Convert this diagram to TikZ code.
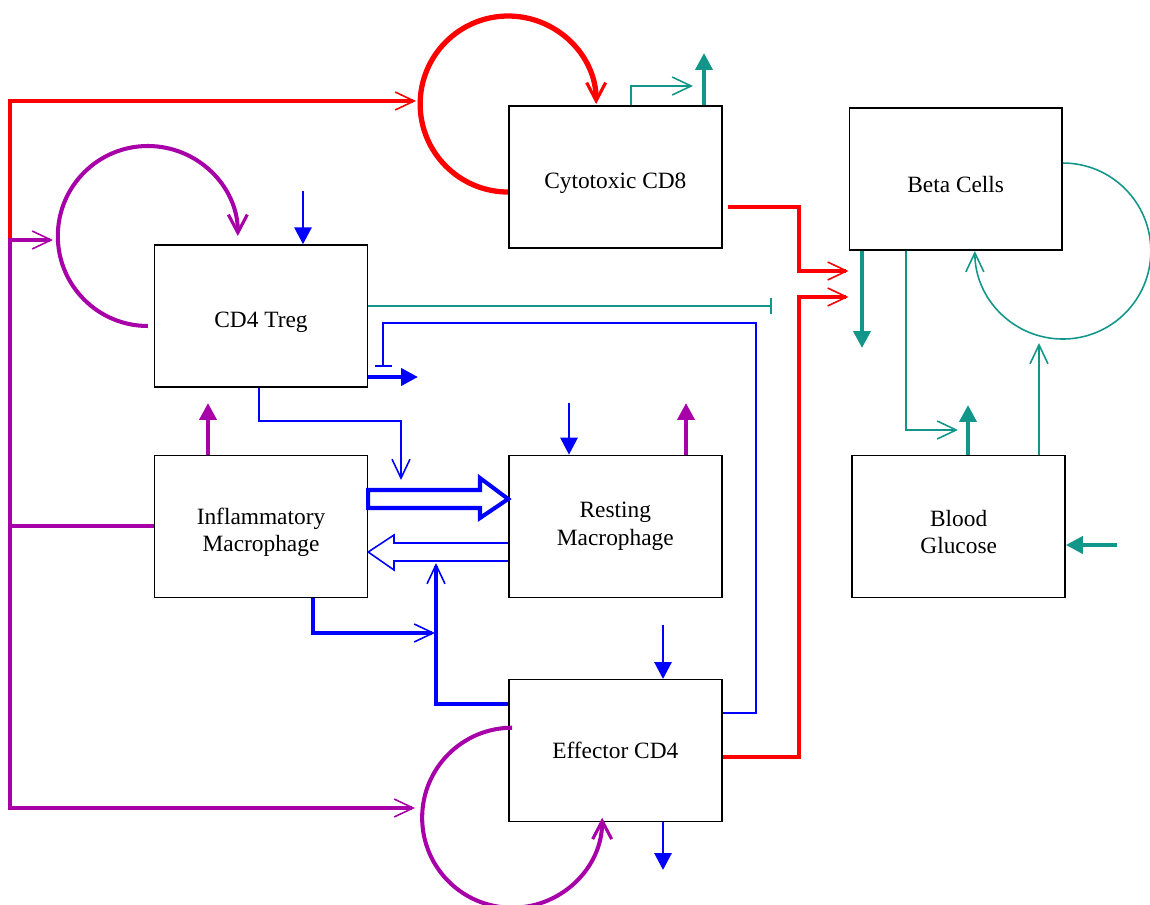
\documentclass[tikz,border=0pt]{standalone}
\usepackage{fontspec}
\setmainfont{Liberation Serif}
\usetikzlibrary{positioning,arrows.meta,calc}
\definecolor{ltred}{HTML}{FF0000}
\definecolor{ltviolet}{HTML}{A800A8}
\definecolor{ltblue}{HTML}{0000FF}
\definecolor{ltteal}{HTML}{12968A}
\newcommand{\celltop}{\rule{0pt}{16pt}}

\begin{document}
\begin{tikzpicture}[x=0.02cm, y=0.02cm,
    every node/.style={font=\fontsize{13.3}{15.5}\selectfont},
    cell/.style={draw, line width=0.8pt, minimum width=4.26cm, minimum height=2.84cm, align=center, inner sep=0pt},
    barb/.style={-{Straight Barb[length=0.38cm, width=0.36cm, line width=0.9pt]}},
    loopbarb/.style={-{Straight Barb[length=0.36cm, width=0.38cm, line width=1.8pt]}},
    fattip/.style={-{Triangle[length=0.34cm, width=0.34cm]}},
    stoptip/.style={-{Bar[width=0.34cm]}},
    rthick/.style={ltred, line width=2.6pt},
    vthick/.style={ltviolet, line width=2.3pt},
    bthick/.style={ltblue, line width=2.3pt},
    bmid/.style={ltblue, line width=1.7pt},
    bthin/.style={ltblue, line width=0.9pt},
    tthick/.style={ltteal, line width=2.3pt},
    tthin/.style={ltteal, line width=0.9pt}]
    \useasboundingbox (0,0) rectangle (1150,904);
    \node[cell] (treg) at (261,588) {\celltop CD4 Treg};
    \node[cell] (infl) [below=1.34cm of treg] {\celltop Inflammatory\\Macrophage};
    \node[cell] (rest) [right=2.8cm of infl] {Resting\\Macrophage};
    \node[cell] (eff) [below=1.62cm of rest] {Effector CD4};
    \node[cell] (cd8) [above=4.12cm of rest] {\celltop Cytotoxic CD8};
    \node[cell] (gluc) [right=2.58cm of rest] {\celltop Blood\\Glucose};
    \node[cell] (beta) [above=4.08cm of gluc, xshift=-0.06cm] {\celltop Beta Cells};
    \coordinate (redfoot) at (10,611);
    \coordinate (hub) at (10,664);
    \draw[rthick, barb] (redfoot) |- (416,803);
    \draw[ltred, line width=3pt, loopbarb] ([yshift=-0.3cm]cd8.west) arc[start angle=270, end angle=0, radius=88];
    \draw[rthick, barb] ([xshift=0.1cm, yshift=-0.6cm]cd8.east) -| (799,633) -- (beta.west |- 0,633);
    \draw[rthick, barb] (eff.east |- 0,147) -| (799,607) -- (beta.west |- 0,607);
    \draw[vthick, barb] (infl.west) -| (hub) -- (53,664);
    \draw[vthick, barb] (infl.west) -| (10,96) -- (415,96);
    \draw[vthick, loopbarb] ([shift={(-6,-10)}]treg.west) arc[start angle=270, end angle=0, radius=90];
    \draw[vthick, loopbarb] ([shift={(4,23)}]eff.west) arc[start angle=90, end angle=360, radius=90];
    \draw[vthick, fattip] (208,0 |- infl.north) -- (208,501);
    \draw[vthick, fattip] (686,0 |- rest.north) -- (686,501);
    \draw[bmid, barb] (259,0 |- treg.south) |- (401,483) -- (401,424);
    \draw[ltblue, line width=2.3pt, fill=white] (infl.east |- 0,414) -- (480,414) -- (480,426) -- (rest.west |- 0,405) -- (480,386) -- (480,396) -- (infl.east |- 0,396) -- cycle;
    \draw[bthin] (rest.west |- 0,361) -- (394,361) -- (394,369) -- (infl.east |- 0,352) -- (394,334) -- (394,343) -- (rest.west |- 0,343);
    \draw[bthick, barb] (313,0 |- infl.south) |- (435,271);
    \draw[bthick, barb] (eff.west |- 0,200) -| (436,341);
    \draw[bthin, stoptip] (eff.east |- 0,191) -| (756,581) -| (383,537);
    \draw[bthick, fattip] (treg.east |- 0,527) -- (418,527);
    \draw[bmid, fattip] (303,713) -- (303,0 |- treg.north);
    \draw[bmid, fattip] (569,501) -- (569,0 |- rest.north);
    \draw[bmid, fattip] (663,279) -- (663,0 |- eff.north);
    \draw[bmid, fattip] (663,0 |- eff.south) -- (663,34);
    \draw[tthin, stoptip] (treg.east |- 0,598) -- (772,598);
    \draw[tthin, barb] (631,0 |- cd8.north) |- (693,818);
    \draw[tthick, fattip] (704,0 |- cd8.north) -- (704,851);
    \draw[tthick, fattip] (862,0 |- beta.south) -- (862,556);
    \draw[tthin, barb] (906,0 |- beta.south) |- (958,474);
    \draw[tthick, fattip] (968,0 |- gluc.north) -- (968,499);
    \draw[tthin, barb] (1039,0 |- gluc.north) -- (1039,561);
    \draw[tthin, barb] ([yshift=0.32cm]beta.east) arc[start angle=90, end angle=-180, radius=88];
    \draw[tthick, fattip] (1117,359) -- (gluc.east |- 0,359);
\end{tikzpicture}
\end{document}
